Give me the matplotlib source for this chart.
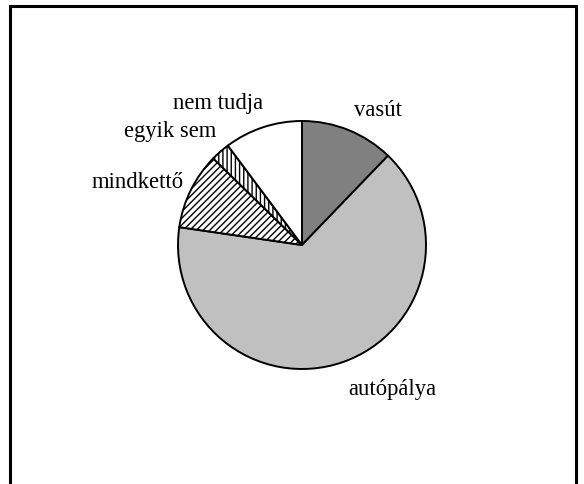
import matplotlib
matplotlib.use('Agg')
import matplotlib.pyplot as plt
from matplotlib.patches import Rectangle

# slice data (clockwise from top)
labels = ['vasút', 'autópálya', 'mindkettő', 'egyik sem', 'nem tudja']
values = [12.2, 65.1, 10.0, 2.5, 10.2]
colors = ['#808080', '#c0c0c0', 'white', 'white', 'white']
hatches = [None, None, '/////', '||||', None]

W, H = 584, 485
plt.rcParams['font.family'] = ['Liberation Serif', 'DejaVu Serif']
plt.rcParams['hatch.linewidth'] = 1.0

fig = plt.figure(figsize=(W / 100, H / 100), dpi=100)
ax = fig.add_axes([0, 0, 1, 1])
ax.set_xlim(0, W)
ax.set_ylim(0, H)
ax.set_aspect('equal')
ax.axis('off')

# outer frame (open at the bottom)
ax.add_patch(Rectangle((9.5, -20), 566, H - 6.5 + 20, fill=False,
                       edgecolor='black', linewidth=2.2))

wedges, _ = ax.pie(values, colors=colors, startangle=90, counterclock=False,
                   center=(302, H - 246), radius=124,
                   wedgeprops=dict(edgecolor='black', linewidth=1.4))
for w, h in zip(wedges, hatches):
    if h:
        w.set_hatch(h)
ax.set_xlim(0, W)
ax.set_ylim(0, H)

# label positions (pixel coords from top-left), alignment
lab_pos = {
    'vasút': (378, 116, 'center'),
    'autópálya': (392, 395, 'center'),
    'mindkettő': (184, 188, 'right'),
    'egyik sem': (170.5, 137, 'center'),
    'nem tudja': (218, 109, 'center'),
}
for lab in labels:
    x, y, ha = lab_pos[lab]
    ax.text(x, H - y, lab, ha=ha, va='baseline', fontsize=16.3, color='black')

fig.savefig('out.png', dpi=100)
